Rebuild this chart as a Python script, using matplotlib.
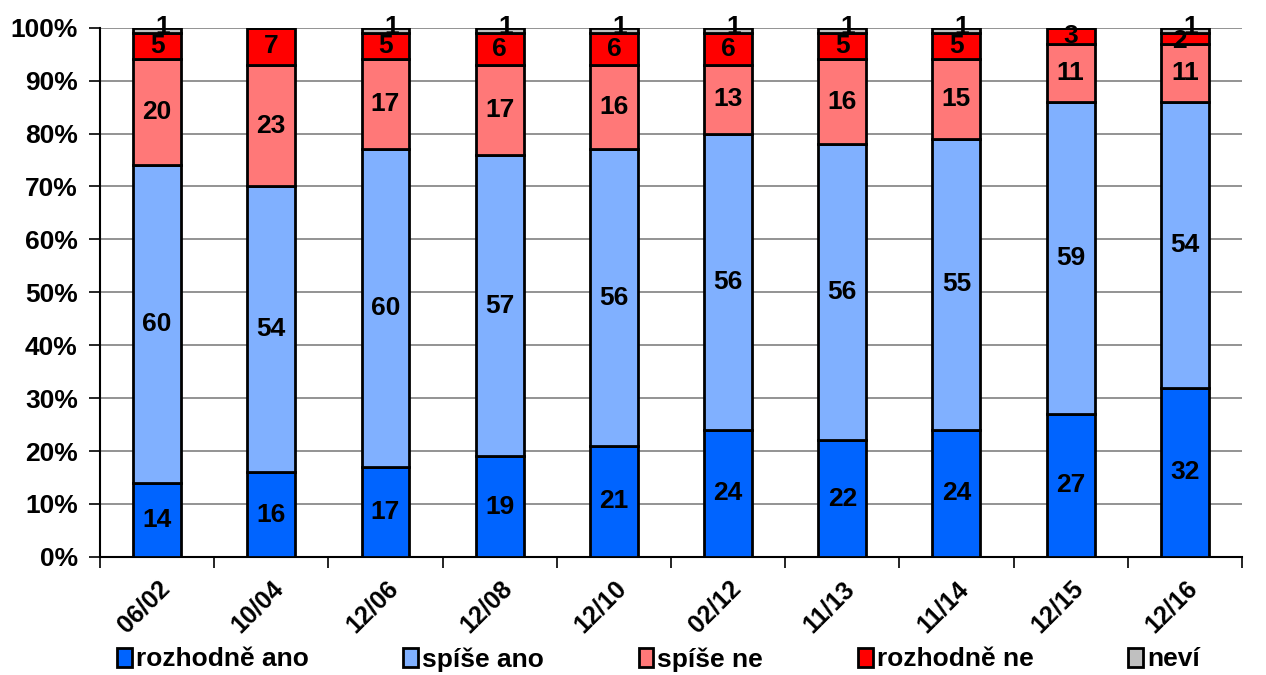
import matplotlib
matplotlib.use('Agg')
from matplotlib import pyplot as plt
import numpy as np

plt.rcParams['font.family'] = ['Liberation Sans', 'DejaVu Sans']

periods = ['06/02', '10/04', '12/06', '12/08', '12/10', '02/12', '11/13', '11/14', '12/15', '12/16']
rozhodne_ano = [14, 16, 17, 19, 21, 24, 22, 24, 27, 32]
spise_ano = [60, 54, 60, 57, 56, 56, 56, 55, 59, 54]
spise_ne = [20, 23, 17, 17, 16, 13, 16, 15, 11, 11]
rozhodne_ne = [5, 7, 5, 6, 6, 6, 5, 5, 3, 2]
nevi = [1, 0, 1, 1, 1, 1, 1, 1, 0, 1]

series = [rozhodne_ano, spise_ano, spise_ne, rozhodne_ne, nevi]
names = ['rozhodně ano', 'spíše ano', 'spíše ne', 'rozhodně ne', 'neví']
colors = ['#0064FF', '#80B0FF', '#FF7878', '#FF0000', '#C0C0C0']

fig = plt.figure(figsize=(12.66, 6.75), dpi=100)
ax = fig.add_axes([0.079, 0.175, 0.902, 0.784])

x = np.arange(len(periods))
data = np.array(series, dtype=float)
totals = data.sum(axis=0)
pct = data / totals * 100
bottom = np.zeros(len(periods))
for vals, p, name, col in zip(data, pct, names, colors):
    ax.bar(x, p, 0.42, bottom=bottom, color=col, edgecolor='black', linewidth=2,
           label=name, zorder=3)
    for i in range(len(periods)):
        if vals[i] > 0:
            dx, dy = 0, 0
            if vals[i] < 2:
                dx, dy = 0.05, 0.6
            elif vals[i] < 3:
                dx, dy = -0.05, -0.6
            ax.text(x[i] + dx, bottom[i] + p[i] / 2 + dy, '%d' % vals[i], ha='center',
                    va='center', fontsize=19, fontweight='bold', zorder=4)
    bottom += p

ax.set_xlim(-0.5, len(periods) - 0.5)
ax.set_ylim(0, 100)
ax.set_yticks(np.arange(0, 101, 10))
ax.set_yticklabels(['%d%%' % v for v in range(0, 101, 10)], fontsize=19, fontweight='bold')
ax.yaxis.grid(True, color='#808080', linewidth=1.2, zorder=0)
ax.set_xticks(x)
ax.set_xticklabels(periods, rotation=45, ha='right', va='top', rotation_mode='anchor',
                   fontsize=18, fontweight='bold')
ax.tick_params(axis='x', length=0, pad=14)
ax.set_xticks(np.arange(-0.5, len(periods), 1), minor=True)
ax.tick_params(axis='x', which='minor', length=8, width=1.2)
ax.tick_params(axis='y', length=8, width=1.2, direction='out', pad=8)
for s in ['top', 'right']:
    ax.spines[s].set_visible(False)
ax.spines['left'].set_linewidth(1.5)
ax.spines['bottom'].set_linewidth(1.5)

fig.legend(loc='lower center', bbox_to_anchor=(0.52, -0.03), ncol=5, frameon=False,
           prop={'size': 19, 'weight': 'bold'}, handlelength=0.55, handleheight=0.75,
           handletextpad=0.15, columnspacing=3.6)

fig.savefig('out.png', dpi=100)
